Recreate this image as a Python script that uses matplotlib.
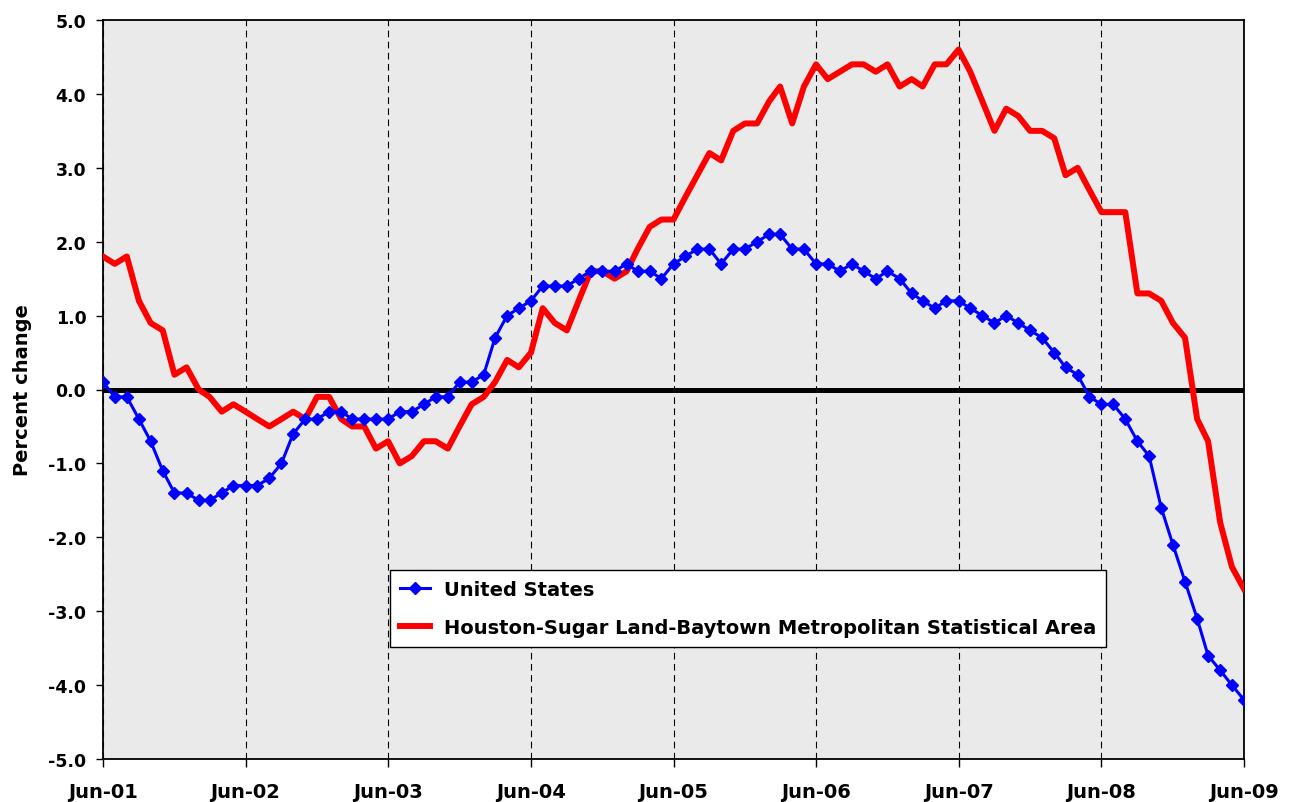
import matplotlib
matplotlib.use("Agg")
import matplotlib.pyplot as plt
import matplotlib.dates as mdates
import pandas as pd

# monthly, Jun-01 .. Jun-09, 12-month percent change
months = pd.date_range("2001-06-01", "2009-06-01", freq="MS")

us = [0.1, -0.1, -0.1, -0.4, -0.7, -1.1, -1.4, -1.4, -1.5, -1.5, -1.4, -1.3,
      -1.3, -1.3, -1.2, -1.0, -0.6, -0.4, -0.4, -0.3, -0.3, -0.4, -0.4, -0.4,
      -0.4, -0.3, -0.3, -0.2, -0.1, -0.1, 0.1, 0.1, 0.2, 0.7, 1.0, 1.1,
      1.2, 1.4, 1.4, 1.4, 1.5, 1.6, 1.6, 1.6, 1.7, 1.6, 1.6, 1.5,
      1.7, 1.8, 1.9, 1.9, 1.7, 1.9, 1.9, 2.0, 2.1, 2.1, 1.9, 1.9,
      1.7, 1.7, 1.6, 1.7, 1.6, 1.5, 1.6, 1.5, 1.3, 1.2, 1.1, 1.2,
      1.2, 1.1, 1.0, 0.9, 1.0, 0.9, 0.8, 0.7, 0.5, 0.3, 0.2, -0.1,
      -0.2, -0.2, -0.4, -0.7, -0.9, -1.6, -2.1, -2.6, -3.1, -3.6, -3.8, -4.0,
      -4.2]

houston = [1.8, 1.7, 1.8, 1.2, 0.9, 0.8, 0.2, 0.3, 0.0, -0.1, -0.3, -0.2,
           -0.3, -0.4, -0.5, -0.4, -0.3, -0.4, -0.1, -0.1, -0.4, -0.5, -0.5, -0.8,
           -0.7, -1.0, -0.9, -0.7, -0.7, -0.8, -0.5, -0.2, -0.1, 0.1, 0.4, 0.3,
           0.5, 1.1, 0.9, 0.8, 1.2, 1.6, 1.6, 1.5, 1.6, 1.9, 2.2, 2.3,
           2.3, 2.6, 2.9, 3.2, 3.1, 3.5, 3.6, 3.6, 3.9, 4.1, 3.6, 4.1,
           4.4, 4.2, 4.3, 4.4, 4.4, 4.3, 4.4, 4.1, 4.2, 4.1, 4.4, 4.4,
           4.6, 4.3, 3.9, 3.5, 3.8, 3.7, 3.5, 3.5, 3.4, 2.9, 3.0, 2.7,
           2.4, 2.4, 2.4, 1.3, 1.3, 1.2, 0.9, 0.7, -0.4, -0.7, -1.8, -2.4,
           -2.7]

yticks = [-5, -4, -3, -2, -1, 0, 1, 2, 3, 4, 5]

plt.rcParams['font.family'] = ['DejaVu Sans']
plt.rcParams['font.weight'] = 'bold'
plt.rcParams['axes.unicode_minus'] = False

fig = plt.figure(figsize=(12.91, 8.03), dpi=100)
ax = fig.add_axes([103/1291, 1 - 760/803, 1141/1291, 739/803])
ax.set_facecolor("#eaeaea")

ax.axhline(0, color="black", lw=3.6, zorder=2)
ax.plot(months, us, color="#0000ff", lw=2.2, marker="D", markersize=6,
        label="United States", zorder=4)
ax.plot(months, houston, color="#ff0000", lw=4.3,
        label="Houston-Sugar Land-Baytown Metropolitan Statistical Area", zorder=3)

ax.set_xlim(months[0], months[-1])
ax.set_ylim(-5, 5)
ax.set_yticks(yticks)
ax.set_yticklabels(["%.1f" % v for v in yticks])
ax.xaxis.set_major_locator(mdates.MonthLocator(bymonth=6))
ax.xaxis.set_major_formatter(mdates.DateFormatter("%b-%y"))

ax.grid(axis="x", color="black", lw=0.8, linestyle=(0, (6, 4)), zorder=1)
ax.set_axisbelow(True)

ax.tick_params(axis="y", labelsize=12.5, length=5, width=1, pad=7)
ax.tick_params(axis="x", labelsize=14, length=6, width=1, pad=10.5)
for lab in ax.get_xticklabels() + ax.get_yticklabels():
    lab.set_fontweight("bold")
for sp in ax.spines.values():
    sp.set_color("black")
    sp.set_linewidth(1.3)

ax.set_ylabel("Percent change", fontsize=14, fontweight="bold", labelpad=12)

leg = ax.legend(loc="upper left", bbox_to_anchor=((390 - 103) / 1141, (760 - 571) / 739),
                borderaxespad=0, fontsize=14, frameon=True, fancybox=False,
                framealpha=1, edgecolor="black", borderpad=0.5,
                handlelength=1.55, handletextpad=0.75, labelspacing=1.0)
leg.get_frame().set_linewidth(1.0)
for t in leg.get_texts():
    t.set_fontweight("bold")

fig.savefig("out.png", dpi=100)
